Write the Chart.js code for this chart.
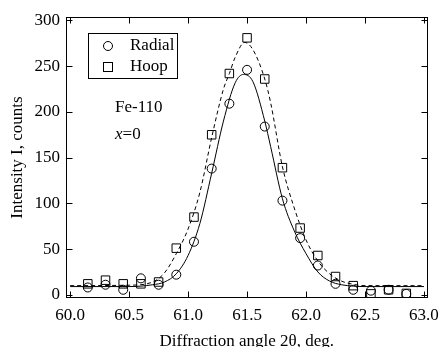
<!DOCTYPE html>
<html>
<head>
<meta charset="utf-8">
<script src="https://cdn.jsdelivr.net/npm/chart.js@4.4.0/dist/chart.umd.min.js"></script>
<style>
  html, body { margin: 0; padding: 0; background: #fff; }
  #wrap { width: 446px; height: 347px; }
</style>
</head>
<body>
<div id="wrap"><canvas id="chart" width="446" height="347"></canvas></div>
<script>
// measured points (2theta, counts)
const angles = [60.15, 60.3, 60.45, 60.6, 60.75, 60.9, 61.05, 61.2, 61.35, 61.5,
                61.65, 61.8, 61.95, 62.1, 62.25, 62.4, 62.55, 62.7, 62.85];
const radial = [8, 11, 5.5, 18, 11, 22, 58, 138, 209, 246, 184, 103, 62, 32, 12, 5.5, 4.5, 5.5, 1];
const hoop   = [12, 16, 12, 12, 14, 51, 85, 175, 242, 281, 236, 139, 73, 43, 20, 10, 1, 5.5, 1.5];

// fitted curves
const radialFitX = [60.0, 60.5, 60.7, 60.8, 60.9, 61.0, 61.1, 61.2, 61.3, 61.4, 61.47, 61.55,
                    61.65, 61.7, 61.8, 61.9, 62.0, 62.1, 62.2, 62.3, 62.4, 62.5, 63.0];
const radialFitY = [9, 9, 11, 14, 23, 43, 78, 133, 190, 232, 241, 233,
                    190, 162, 105, 70, 45, 25, 15, 11, 9.5, 9, 9];
const hoopFitX = [60.0, 60.5, 60.7, 60.8, 60.9, 61.0, 61.1, 61.2, 61.3, 61.35, 61.4, 61.48, 61.55,
                  61.65, 61.7, 61.8, 61.9, 62.0, 62.1, 62.2, 62.3, 62.4, 62.5, 63.0];
const hoopFitY = [10, 10.5, 14, 24, 45, 72, 112, 172, 225, 242, 260, 276, 268,
                  236, 210, 140, 95, 60, 37, 23, 15, 11.5, 10, 10];

const xTicks = [60.0, 60.5, 61.0, 61.5, 62.0, 62.5, 63.0];
const yTicks = [0, 50, 100, 150, 200, 250, 300];

const serif = "'Liberation Serif', 'Times New Roman', serif";

function pts(xs, ys) {
  return xs.map((x, i) => ({ x: x, y: ys[i] }));
}

// frame, inward ticks, legend box and labels
const decor = {
  id: 'decor',
  afterDraw(chart) {
    const ctx = chart.ctx;
    const a = chart.chartArea;
    const xs = chart.scales.x, ys = chart.scales.y;
    const L = Math.round(a.left) + 0.5, R = Math.round(a.right) - 0.5;
    const T = Math.round(a.top) + 0.5, B = Math.round(a.bottom) - 0.5;
    ctx.save();
    ctx.strokeStyle = '#000';
    ctx.lineWidth = 1;
    ctx.setLineDash([]);
    ctx.strokeRect(L, T, R - L, B - T);
    ctx.beginPath();
    xTicks.forEach(v => {
      const px = Math.round(xs.getPixelForValue(v)) + 0.5;
      ctx.moveTo(px, B); ctx.lineTo(px, B - 6);
      ctx.moveTo(px, T); ctx.lineTo(px, T + 6);
    });
    yTicks.forEach(v => {
      const py = Math.round(ys.getPixelForValue(v)) + 0.5;
      ctx.moveTo(L, py); ctx.lineTo(L + 6, py);
      ctx.moveTo(R, py); ctx.lineTo(R - 6, py);
    });
    ctx.stroke();

    // legend
    ctx.strokeRect(88.5, 33.5, 89, 45);
    ctx.beginPath();
    ctx.arc(108, 46, 4.5, 0, Math.PI * 2);
    ctx.stroke();
    ctx.strokeRect(103.5, 62.5, 9, 9);
    ctx.fillStyle = '#000';
    ctx.font = '17px ' + serif;
    ctx.textBaseline = 'middle';
    ctx.textAlign = 'left';
    ctx.fillText(chart.data.datasets[2].label, 130, 46);
    ctx.fillText(chart.data.datasets[3].label, 130, 67);

    // annotation
    ctx.fillText('Fe-110', 115, 108);
    ctx.font = 'italic 17px ' + serif;
    ctx.fillText('x', 115, 135);
    const w = ctx.measureText('x').width;
    ctx.font = '17px ' + serif;
    ctx.fillText('=0', 115 + w, 135);
    ctx.restore();
  }
};

new Chart(document.getElementById('chart'), {
  type: 'scatter',
  data: {
    datasets: [
      {
        type: 'line', label: 'Radial fit', data: pts(radialFitX, radialFitY),
        borderColor: '#000', borderWidth: 1, pointRadius: 0,
        cubicInterpolationMode: 'monotone', fill: false
      },
      {
        type: 'line', label: 'Hoop fit', data: pts(hoopFitX, hoopFitY),
        borderColor: '#000', borderWidth: 1, borderDash: [4, 3], pointRadius: 0,
        cubicInterpolationMode: 'monotone', fill: false
      },
      {
        label: 'Radial', data: pts(angles, radial), showLine: false,
        pointStyle: 'circle', pointRadius: 4.5, borderColor: '#000', borderWidth: 1,
        backgroundColor: 'rgba(0,0,0,0)'
      },
      {
        label: 'Hoop', data: pts(angles, hoop), showLine: false,
        pointStyle: 'rect', pointRadius: 6, borderColor: '#000', borderWidth: 1,
        backgroundColor: 'rgba(0,0,0,0)'
      }
    ]
  },
  options: {
    responsive: false,
    animation: false,
    layout: { padding: { top: 17, right: 14, left: 0, bottom: 0 } },
    plugins: { legend: { display: false }, tooltip: { enabled: false } },
    scales: {
      x: {
        type: 'linear', min: 59.965, max: 63.03,
        grid: { display: false, drawTicks: false },
        border: { display: false },
        afterBuildTicks: s => { s.ticks = xTicks.map(v => ({ value: v })); },
        afterFit: s => { s.height = 49; },
        ticks: {
          color: '#000', padding: 7, maxRotation: 0, autoSkip: false,
          font: { family: serif, size: 17 },
          callback: v => v.toFixed(1)
        },
        title: {
          display: true, text: 'Diffraction angle 2θ, deg.', color: '#000',
          font: { family: serif, size: 17 }, padding: { top: 0, bottom: -5 }
        }
      },
      y: {
        type: 'linear', min: -3.5, max: 303.8,
        grid: { display: false, drawTicks: false },
        border: { display: false },
        afterBuildTicks: s => { s.ticks = yTicks.map(v => ({ value: v })); },
        afterFit: s => { s.width = 66; },
        ticks: {
          color: '#000', padding: 6, autoSkip: false,
          font: { family: serif, size: 17 }
        },
        title: {
          display: true, text: 'Intensity I, counts', color: '#000',
          font: { family: serif, size: 17 }, padding: { top: 7, bottom: 0 }
        }
      }
    }
  },
  plugins: [decor]
});
</script>
</body>
</html>
